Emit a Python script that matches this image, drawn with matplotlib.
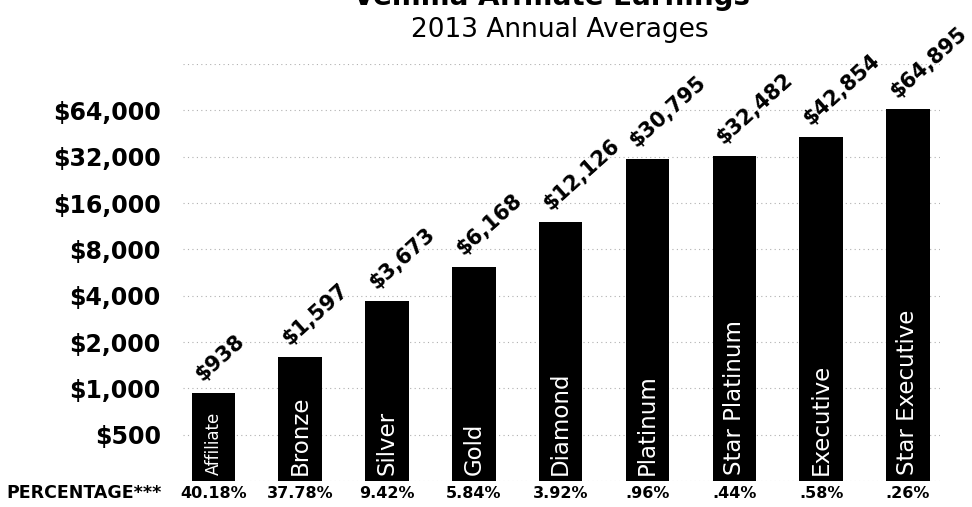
import matplotlib
matplotlib.use("Agg")
import matplotlib.pyplot as plt
import matplotlib.transforms as mtransforms

# data
ranks = ["Affiliate", "Bronze", "Silver", "Gold", "Diamond", "Platinum",
         "Star Platinum", "Executive", "Star Executive"]
earnings = [938, 1597, 3673, 6168, 12126, 30795, 32482, 42854, 64895]
percentages = ["40.18%", "37.78%", "9.42%", "5.84%", "3.92%", ".96%",
               ".44%", ".58%", ".26%"]
tick_values = [500, 1000, 2000, 4000, 8000, 16000, 32000, 64000]
grid_values = [250, 500, 1000, 2000, 4000, 8000, 16000, 32000, 64000, 128000]

plt.rcParams['font.family'] = ['DejaVu Sans']

fig = plt.figure(figsize=(9.72, 5.07), dpi=100)
ax = fig.add_axes([183 / 972, 1 - 481 / 507, (940 - 183) / 972, (481 - 64) / 507])

ax.set_yscale('log', base=2)
ax.set_ylim(250, 128000)
ax.set_xlim(-0.35, 8.37)

for g in grid_values:
    ax.axhline(g, color='#b0b0b0', linestyle=(0, (1, 3)), linewidth=0.8, zorder=0)

xs = list(range(len(ranks)))
width = 0.5
ax.bar(xs, earnings, width=width, bottom=0, color='black', zorder=2)

# value labels, slanted above each bar
for x, v in zip(xs, earnings):
    ax.annotate(f"${v:,}", xy=(x - width / 2, v), xytext=(8, 8),
                textcoords='offset points', rotation=42, rotation_mode='anchor',
                ha='left', va='baseline', fontsize=15, fontweight='bold',
                annotation_clip=False, zorder=3)

# rank names inside bars
for x, name in zip(xs, ranks):
    fs = 12 if name == "Affiliate" else 16.5
    ax.annotate(name, xy=(x, 250), xytext=(0, 4), textcoords='offset points',
                rotation=90, ha='center', va='bottom', color='white',
                fontsize=fs, zorder=3)

ax.set_yticks(tick_values)
ax.set_yticklabels([f"${t:,}" for t in tick_values])
ax.minorticks_off()
ax.set_xticks([])
ax.tick_params(axis='y', length=0, pad=16, labelsize=17)
for lbl in ax.get_yticklabels():
    lbl.set_fontweight('bold')
for s in ax.spines.values():
    s.set_visible(False)

# percentage row under the bars
row_y = 1 - 493 / 507
fig.text(162 / 972, row_y, "PERCENTAGE***", ha='right', va='center',
         fontsize=12.5, fontweight='bold')
row_trans = mtransforms.blended_transform_factory(ax.transData, fig.transFigure)
for x, p in zip(xs, percentages):
    ax.text(x, row_y, p, transform=row_trans, ha='center', va='center',
            fontsize=11.5, fontweight='bold', clip_on=False)

# titles (the main title is cut off at the top edge in the reference)
fig.text(0.567, 1 - 5 / 507, "Vemma Affiliate Earnings", ha='center',
         va='baseline', fontsize=20, fontweight='bold')
fig.text(0.576, 1 - 37 / 507, "2013 Annual Averages", ha='center',
         va='baseline', fontsize=19)

fig.savefig("out.png", dpi=100)
